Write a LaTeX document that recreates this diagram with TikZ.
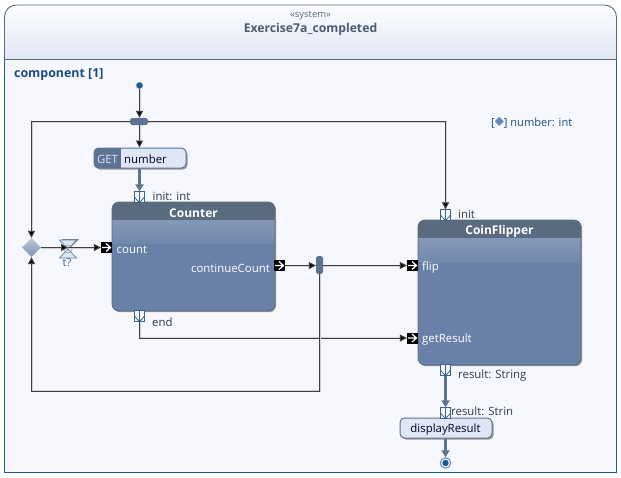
\documentclass[tikz,border=0pt]{standalone}
\usepackage{fontspec}
\setmainfont{Open Sans}
\usetikzlibrary{arrows.meta,calc,shapes.geometric}
\definecolor{frameG}{HTML}{5A6B80}
\definecolor{frameB}{HTML}{1D5A94}
\definecolor{paper}{HTML}{F5F7FD}
\definecolor{headTop}{HTML}{FBFCFE}
\definecolor{headBot}{HTML}{E0E6F4}
\definecolor{blockHead}{HTML}{5A6B80}
\definecolor{blockBody}{HTML}{6981A8}
\definecolor{blockTop}{HTML}{8698B8}
\definecolor{blockMid}{HTML}{7088AC}
\definecolor{actFill}{HTML}{E0E6F6}
\definecolor{flowThick}{HTML}{5E7291}
\definecolor{portEdge}{HTML}{3D6487}
\definecolor{txt}{HTML}{2E3A4C}
\tikzset{
  x=1pt,y=-1pt,
  lbl/.style={font=\fontsize{11.4}{13}\selectfont,text=txt,inner sep=0pt,anchor=west},
  wlbl/.style={font=\fontsize{11.4}{13}\selectfont,text=white,inner sep=0pt},
  wire/.style={draw=black!75,line width=1pt,preaction={draw=black!18,line width=2pt},-{Triangle[length=7pt,width=7pt,fill=black]}},
  thick flow/.style={draw=flowThick,line width=3pt,-{Triangle[length=7pt,width=8pt,fill=flowThick]}},
  pinport/.style={fill=black,draw=none,minimum width=11pt,minimum height=11pt,inner sep=0pt,rectangle},
  dataport/.style={fill=paper,draw=portEdge,line width=.8pt,minimum width=10.5pt,minimum height=10.5pt,inner sep=0pt,rectangle},
  forkbar/.style={fill=flowThick,draw=none,rounded corners=1.8pt,inner sep=0pt,rectangle},
  action/.style={fill=actFill,draw=flowThick,line width=1pt,rounded corners=4.5pt,inner sep=0pt,rectangle,minimum width=92pt,minimum height=20pt},
}
\newcommand{\pinarrow}[1]{\draw[white,line width=1.2pt] ($(#1)+(-4.5,0)$) -- ($(#1)+(4,0)$) ($(#1)+(-.5,-4)$) -- ($(#1)+(4,0)$) -- ($(#1)+(-.5,4)$);}
\newcommand{\datachev}[1]{\draw[portEdge,line width=.8pt] ($(#1.center)+(-5.2,0)$) -- ($(#1.south)$) -- ($(#1.center)+(5.2,0)$);\draw[portEdge,line width=.8pt] (#1.north) -- (#1.south);}
\newcommand{\blockshape}[6]{% x1,y1,x2,y2,head bottom,glass bottom
  \fill[black!40,rounded corners=7pt] (#1+1.2,#2+1.2) rectangle (#3+1.2,#4+1.2);
  \begin{scope}
    \clip[rounded corners=7pt] (#1,#2) rectangle (#3,#4);
    \fill[blockBody] (#1,#2) rectangle (#3,#4);
    \fill[blockHead] (#1,#2) rectangle (#3,#5);
    \shade[top color=blockTop,bottom color=blockMid] (#1,#5) rectangle (#3,#6);
  \end{scope}
  \draw[frameG,line width=.8pt,rounded corners=7pt] (#1,#2) rectangle (#3,#4);
}
\begin{document}
\begin{tikzpicture}
\useasboundingbox (0,0) rectangle (621,477);
\fill[white] (0,0) rectangle (621,477);
% frame
\fill[paper] (4.5,59.5) rectangle (616.5,472.5);
\shade[top color=headTop,bottom color=headBot,rounded corners=12pt] (4.5,59.5) [sharp corners] -- (4.5,30) [rounded corners=12pt] -- (4.5,5) -- (616.5,5) -- (616.5,30) [sharp corners] -- (616.5,59.5) -- cycle;
\draw[frameG,line width=.9pt,rounded corners=12pt] (4.5,59.5) [sharp corners] -- (4.5,30) [rounded corners=12pt] -- (4.5,5) -- (616.5,5) -- (616.5,30) [sharp corners] -- (616.5,59.5) -- cycle;
\draw[frameB,line width=.9pt] (4.5,59.5) -- (4.5,472.5) -- (616.5,472.5) -- (616.5,59.5);
\node[font=\fontsize{9.5}{11}\selectfont,text=frameG,inner sep=0pt] (stereo) at (310.5,15.5) {«system»};
\node[font=\fontsize{12.2}{14}\selectfont\bfseries,text=frameG!85!black,inner sep=0pt] (title) at (310.5,29.5) {Exercise7a\_completed};
\node[font=\fontsize{12.4}{14}\selectfont\bfseries,text=frameB!85!black,inner sep=0pt,anchor=west] (region) at (14,75) {component [1]};
\node[font=\fontsize{11.1}{13}\selectfont,text=frameB!85!black,inner sep=0pt,anchor=west] (var) at (491,122.5) {[\raisebox{.5pt}{\tikz[x=1pt,y=1pt]\fill[frameB!70!white] (0,4.5)--(4.5,9)--(9,4.5)--(4.5,0)--cycle;}] number: int};
% blocks
\blockshape{112}{202}{275}{311}{220}{243}
\blockshape{418}{220}{581}{365}{238}{262}
\node[font=\fontsize{12}{14}\selectfont\bfseries,text=white,inner sep=0pt] (counterT) at (193.5,213) {Counter};
\node[font=\fontsize{12}{14}\selectfont\bfseries,text=white,inner sep=0pt] (flipT) at (499.5,231.5) {CoinFlipper};
% named elements
\node[circle,fill=frameB,draw=frameB!60!white,line width=.5pt,minimum size=6.5pt,inner sep=0pt] (start) at (139.5,85.5) {};
\node[forkbar,minimum width=18pt,minimum height=7pt] (fork1) at (139,121.5) {};
\node[forkbar,minimum width=7pt,minimum height=18pt] (fork2) at (319.5,265) {};
% get action
\fill[black!40,rounded corners=4.5pt] (95.5,149.5) rectangle (187.5,169.5);
\node[action] (get) at (140,158) {};
\begin{scope}
  \clip[rounded corners=4.5pt] (94,148) rectangle (186,168);
  \fill[flowThick] (94,148) rectangle (121,168);
\end{scope}
\node[wlbl,text=white!88!blue] (getkw) at (107.5,159.5) {GET};
\node[lbl,text=black!85!blue] (getname) at (124,159.5) {number};
% display action
\fill[black!40,rounded corners=4.5pt] (401.5,419.5) rectangle (493.5,439.5);
\node[action] (disp) at (446,428) {};
\node[font=\fontsize{11.4}{13}\selectfont,text=black!85!blue,inner sep=0pt] (dispname) at (445.5,429.5) {displayResult};
% ports
\node[dataport] (pinit) at (139.5,197) {};
\node[dataport] (pend) at (139.5,316) {};
\node[dataport] (finit) at (445.5,215) {};
\node[dataport] (fres) at (445.5,370) {};
\node[dataport] (dres) at (445.5,413) {};
\node[pinport] (pcount) at (106.5,247.5) {};
\node[pinport] (pcont) at (279.5,265.5) {};
\node[pinport] (pflip) at (412.5,265.5) {};
\node[pinport] (pget) at (412.5,338) {};
\foreach \p in {pinit,pend,finit,fres,dres}{\datachev{\p}}
\foreach \p in {pcount,pcont,pflip,pget}{\pinarrow{\p}}
% decision
\node[diamond,shade,top color=blockTop!55!white,bottom color=blockBody!85!white,draw=none,minimum width=19pt,minimum height=19pt,inner sep=0pt] (dec) at (31.5,247.5) {};
% timer
\coordinate (timer) at (68,247.5);
\begin{scope}
  \fill[black!50] (62,239) -- (79,239) -- (71,247) -- (66,247) -- cycle;
  \draw[portEdge!80!white,fill=actFill,line width=.7pt] (59.5,240) -- (76.5,240) -- (59.5,258) -- (76.5,258) -- cycle;
  \draw[portEdge!60!white,line width=.6pt] (68,249) circle[radius=4];
  \clip (55,258.5) rectangle (85,265.5);
  \node[font=\fontsize{11}{12}\selectfont,text=portEdge,inner sep=0pt,anchor=north] (tlabel) at (67,258.5) {t?};
\end{scope}
% labels
\node[lbl] (linit) at (152.5,196) {init: int};
\node[lbl] (lend) at (152,322) {end};
\node[lbl] (lfinit) at (458,214) {init};
\node[lbl] (lres) at (458,376) {result: String};
\node[lbl] (ldres) at (451,411) {result: Strin};
\node[wlbl,anchor=west] (lcount) at (116.5,250) {count};
\node[wlbl,anchor=east] (lcont) at (270,268) {continueCount};
\node[wlbl,anchor=west] (lflip) at (422,268) {flip};
\node[wlbl,anchor=west] (lget) at (422,340) {getResult};
% connectors
\coordinate (loop) at (31.5,391);
\draw[wire] (start) -- (fork1.north -| start);
\draw[wire] (fork1.south -| start) -- (get.north -| start);
\draw[thick flow] (get.south -| start) -- (pinit.north);
\draw[wire] (fork1.west) -| (dec.north);
\draw[wire] (fork1.east) -| (finit.north);
\draw[wire] (dec.east) -- (timer);
\draw[wire] (timer) -- (pcount.west);
\draw[wire] (pcont.east) -- (fork2.west |- pcont);
\draw[wire] (fork2.east |- pflip) -- (pflip.west);
\draw[wire] (pend.south) |- (pget.west);
\draw[wire] (fork2.south) |- (loop) -- (dec.south);
\draw[thick flow] (fres.south) -- (dres.north);
\node[circle,fill=paper,draw=frameB!70!white,line width=1pt,minimum size=10.5pt,inner sep=0pt] (stop) at (445.5,463) {};
\fill[frameB] (stop) circle[radius=3.2];
\draw[thick flow] (disp.south -| stop) -- (stop.north);
\end{tikzpicture}
\end{document}
